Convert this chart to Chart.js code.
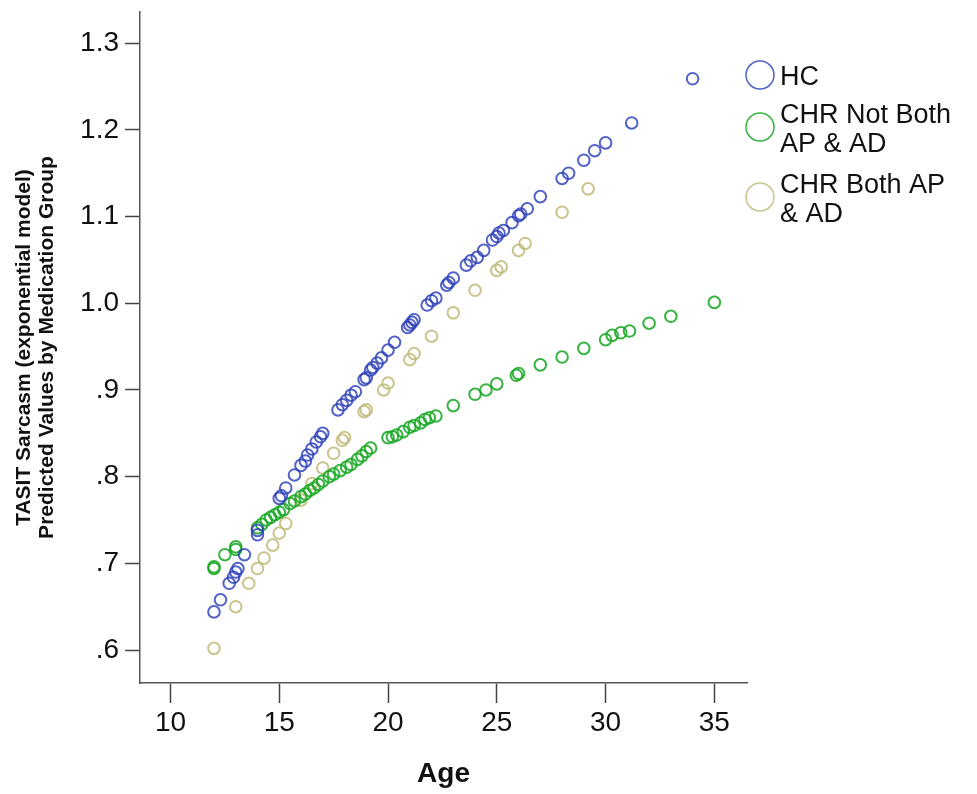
<!DOCTYPE html>
<html>
<head>
<meta charset="utf-8">
<script src="https://cdn.jsdelivr.net/npm/chart.js@4"></script>
<style>
  html, body { margin: 0; padding: 0; background: #fff; }
  #wrap { width: 977px; height: 794px; }
</style>
</head>
<body>
<div id="wrap"><canvas id="age-chart"></canvas></div>
<script>
// HC
const hcAge = [12.0, 12.3, 12.7, 12.9, 13.0, 13.1, 13.4, 14.0, 14.0, 15.0, 15.1, 15.3, 15.7, 16.0, 16.2, 16.3, 16.5, 16.7, 16.9, 17.0,
    17.7, 17.9, 18.1, 18.3, 18.5, 18.9, 19.0, 19.2, 19.3, 19.5, 19.7, 20.0, 20.3, 20.9, 21.0, 21.1, 21.2, 21.8, 22.0, 22.2,
    22.7, 22.8, 23.0, 23.6, 23.8, 24.1, 24.4, 24.8, 25.0, 25.1, 25.3, 25.7, 26.0, 26.1, 26.4, 27.0, 28.0, 28.3, 29.0, 29.5,
    30.0, 31.2, 34.0];
const hcValue = [0.644, 0.658, 0.677, 0.684, 0.690, 0.694, 0.710, 0.733, 0.738, 0.775, 0.778, 0.787, 0.802, 0.813, 0.818, 0.825, 0.832, 0.840, 0.846, 0.850,
    0.877, 0.883, 0.888, 0.894, 0.898, 0.912, 0.914, 0.923, 0.926, 0.931, 0.937, 0.946, 0.955, 0.972, 0.975, 0.978, 0.981, 0.998, 1.003, 1.006,
    1.021, 1.024, 1.029, 1.044, 1.049, 1.053, 1.061, 1.073, 1.077, 1.081, 1.084, 1.093, 1.101, 1.103, 1.109, 1.123, 1.144, 1.150, 1.165, 1.176,
    1.185, 1.208, 1.259];

// CHR Not Both AP & AD
const notBothAge = [12.0, 12.0, 12.5, 13.0, 13.0, 14.0, 14.2, 14.4, 14.6, 14.8, 15.0, 15.2, 15.5, 15.7, 16.0, 16.2, 16.4, 16.6, 16.8, 17.0,
    17.3, 17.5, 17.8, 18.1, 18.3, 18.6, 18.8, 19.0, 19.2, 20.0, 20.2, 20.4, 20.7, 21.0, 21.2, 21.5, 21.7, 21.9, 22.2, 23.0,
    24.0, 24.5, 25.0, 25.9, 26.0, 27.0, 28.0, 29.0, 30.0, 30.3, 30.7, 31.1, 32.0, 33.0, 35.0];
const notBothValue = [0.696, 0.694, 0.710, 0.719, 0.716, 0.741, 0.745, 0.750, 0.753, 0.756, 0.759, 0.762, 0.769, 0.772, 0.777, 0.780, 0.784, 0.787, 0.791, 0.795,
    0.800, 0.803, 0.807, 0.811, 0.814, 0.820, 0.824, 0.829, 0.833, 0.845, 0.846, 0.848, 0.852, 0.857, 0.859, 0.862, 0.866, 0.868, 0.870, 0.882,
    0.895, 0.900, 0.907, 0.917, 0.919, 0.929, 0.938, 0.948, 0.958, 0.963, 0.966, 0.968, 0.977, 0.985, 1.001];

// CHR Both AP & AD
const bothAge = [12.0, 13.0, 13.6, 14.0, 14.3, 14.7, 15.0, 15.3, 16.0, 16.5, 17.0, 17.5, 17.9, 18.0, 18.9, 19.0, 19.8, 20.0, 21.0, 21.2,
    22.0, 23.0, 24.0, 25.0, 25.2, 26.0, 26.3, 28.0, 29.2];
const bothValue = [0.602, 0.650, 0.677, 0.694, 0.706, 0.721, 0.735, 0.746, 0.773, 0.792, 0.810, 0.827, 0.842, 0.845, 0.875, 0.877, 0.900, 0.908, 0.935, 0.942,
    0.962, 0.989, 1.015, 1.038, 1.042, 1.061, 1.069, 1.105, 1.132];

const groupLabels = [["HC"], ["CHR Not Both", "AP & AD"], ["CHR Both AP", "& AD"]];
const groupColors = ["rgba(44, 64, 184, 0.82)", "rgba(26, 168, 38, 0.88)", "rgba(194, 188, 124, 0.88)"];

const xTicks = [10, 15, 20, 25, 30, 35];
const yTicks = [0.6, 0.7, 0.8, 0.9, 1.0, 1.1, 1.2, 1.3];

const fontFamily = "'Liberation Sans', Arial, sans-serif";

let toPoints = (ages, values) => ages.map((a, i) => ({ x: a, y: values[i] }));

let fmtY = v => {
    const s = Number(v).toFixed(1);
    return v < 1 ? s.replace(/^0/, "") : s;
};

// legend drawn at the right, multi line labels
const sideLegend = {
    id: "sideLegend",
    afterDraw(chart) {
        const ctx = chart.ctx;
        const x0 = chart.chartArea.right + 13;
        const rowY = [75, 127, 197];
        const lineH = 29;
        ctx.save();
        ctx.font = "27px " + fontFamily;
        ctx.textBaseline = "middle";
        ctx.fillStyle = "#111";
        chart.data.datasets.forEach((ds, i) => {
            const lines = groupLabels[i];
            ctx.beginPath();
            ctx.arc(x0, rowY[i], 14, 0, Math.PI * 2);
            ctx.lineWidth = 1.5;
            ctx.strokeStyle = ds.borderColor;
            ctx.stroke();
            const startY = rowY[i] + 3 - (lines.length - 1) * lineH / 2;
            lines.forEach((t, j) => ctx.fillText(t, x0 + 20, startY + j * lineH));
        });
        ctx.restore();
    }
};

let initChart = () => {
    const datasets = [
        toPoints(hcAge, hcValue),
        toPoints(notBothAge, notBothValue),
        toPoints(bothAge, bothValue)
    ].map((pts, i) => ({
        label: groupLabels[i].join(" "),
        data: pts,
        borderColor: groupColors[i],
        backgroundColor: "rgba(0,0,0,0)",
        pointRadius: 5.8,
        pointHoverRadius: 5.8,
        borderWidth: 2,
        showLine: false
    }));

    new Chart("age-chart", {
        type: "scatter",
        data: { datasets: datasets },
        options: {
            responsive: true,
            maintainAspectRatio: false,
            animation: false,
            layout: { padding: { top: 12, right: 230, left: 0, bottom: 0 } },
            plugins: {
                legend: { display: false },
                tooltip: { enabled: false }
            },
            scales: {
                x: {
                    type: "linear",
                    min: 8.6,
                    max: 36.5,
                    afterBuildTicks: s => { s.ticks = xTicks.map(v => ({ value: v })); },
                    afterFit: s => { s.height = 111; s.paddingLeft = 0; s.paddingRight = 0; },
                    border: { display: true, color: "#555", width: 1.5 },
                    grid: { drawOnChartArea: false, drawTicks: true, tickLength: 20, tickWidth: 1.5, tickColor: "#444" },
                    ticks: {
                        padding: 3,
                        color: "#111",
                        maxRotation: 0,
                        font: { family: fontFamily, size: 28 }
                    },
                    title: {
                        display: true,
                        text: "Age",
                        color: "#111",
                        padding: { top: 0, bottom: 3 },
                        font: { family: fontFamily, size: 28, weight: "bold" }
                    }
                },
                y: {
                    type: "linear",
                    min: 0.562,
                    max: 1.336,
                    afterBuildTicks: s => { s.ticks = yTicks.map(v => ({ value: v })); },
                    afterFit: s => { s.width = 140; s.paddingTop = 0; s.paddingBottom = 0; },
                    border: { display: true, color: "#555", width: 1.5 },
                    grid: { drawOnChartArea: false, drawTicks: true, tickLength: 15, tickWidth: 1.5, tickColor: "#444" },
                    ticks: {
                        padding: 6,
                        color: "#111",
                        callback: v => fmtY(v),
                        font: { family: fontFamily, size: 28 }
                    },
                    title: {
                        display: true,
                        text: ["TASIT Sarcasm (exponential model)", "Predicted Values by Medication Group"],
                        color: "#111",
                        padding: { top: 13, bottom: 0 },
                        font: { family: fontFamily, size: 21, weight: "bold", lineHeight: 1.08 }
                    }
                }
            }
        },
        plugins: [sideLegend]
    });
};

initChart();
</script>
</body>
</html>
